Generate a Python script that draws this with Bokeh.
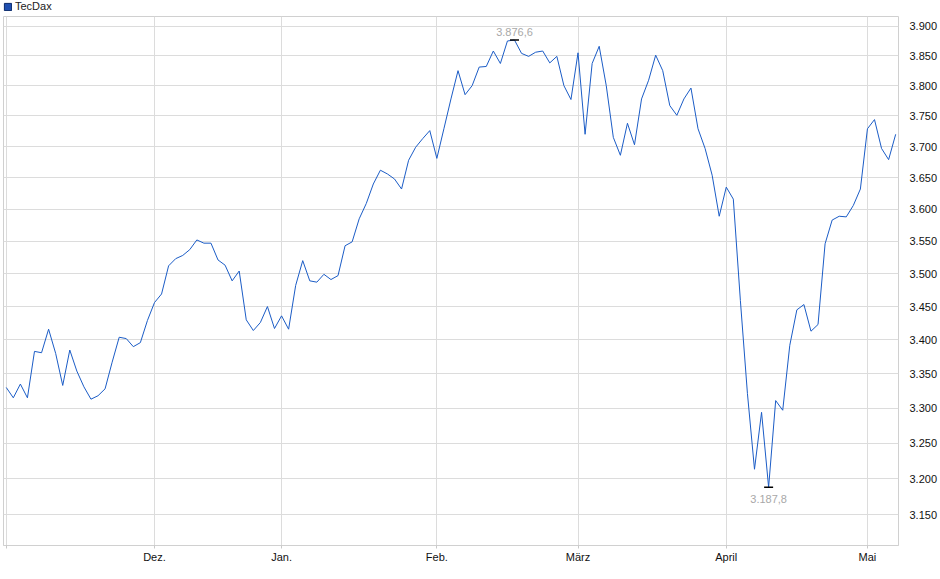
from bokeh.plotting import figure
from bokeh.layouts import column
from bokeh.models import Range1d, FixedTicker, CustomJSTickFormatter, Legend, LegendItem
from bokeh.embed import file_html
from bokeh.resources import INLINE
from bokeh.core.properties import value

series_name = "TecDax"

# daily closes, one per trading day (1 Nov 2024 .. 8 May 2025)
values = [
    3330, 3315, 3335, 3315, 3383, 3381, 3416, 3380, 3333, 3385,
    3354, 3331, 3313, 3318, 3328, 3367, 3404, 3402, 3390, 3396,
    3429, 3456, 3469, 3512, 3523, 3528, 3537, 3552, 3547, 3547,
    3521, 3513, 3489, 3504, 3430, 3414, 3426, 3450, 3417, 3436,
    3416, 3482, 3520, 3489, 3487, 3499, 3491, 3497, 3543, 3549,
    3585, 3609, 3640, 3662, 3656, 3648, 3632, 3678, 3699, 3713,
    3726, 3681, 3729, 3778, 3825, 3785, 3800, 3831, 3832, 3858,
    3837, 3875, 3876.6, 3854, 3849, 3856, 3858, 3838, 3849, 3800,
    3777, 3855, 3720, 3837, 3866, 3800, 3715, 3686, 3738, 3703,
    3778, 3809, 3851, 3825, 3767, 3751, 3778, 3796, 3729, 3697,
    3654, 3589, 3635, 3616, 3459, 3321, 3213, 3294, 3187.8, 3311,
    3297, 3392, 3445, 3453, 3413, 3423, 3546, 3583, 3589, 3588,
    3606, 3632, 3729, 3744, 3697, 3679, 3720,
]

month_ticks = [0, 21, 39, 61, 81, 102, 122]
month_labels = ["", "Dez.", "Jan.", "Feb.", "März", "April", "Mai"]
y_ticks = [3150, 3200, 3250, 3300, 3350, 3400, 3450, 3500, 3550,
           3600, 3650, 3700, 3750, 3800, 3850, 3900]
max_label = "3.876,6"
min_label = "3.187,8"

idx = list(range(len(values)))
i_max = max(idx, key=lambda i: values[i])
i_min = min(idx, key=lambda i: values[i])

LINE = "#1b5cc6"
GRID = "#dcdcdc"
FONT = "Liberation Sans"

# ---- legend strip above the chart ----
top = figure(width=931, height=16, x_axis_type=None, y_axis_type=None,
             x_range=Range1d(0, 1), y_range=Range1d(0, 1),
             output_backend="svg", toolbar_location=None,
             min_border=0, min_border_left=3)
top.outline_line_color = None
top.xgrid.visible = False
top.ygrid.visible = False
# off-screen placeholder whose glyph serves as the legend swatch
swatch = top.quad(left=[-3], right=[-2], top=[-2], bottom=[-3],
                  fill_color="#1f4fb0", line_color="#0b2a6a")
legend = Legend(items=[LegendItem(label=series_name, renderers=[swatch])],
                location="top_left", orientation="horizontal",
                glyph_width=9, glyph_height=9, label_height=12,
                label_standoff=3, padding=0, margin=0, spacing=0,
                border_line_color=None, background_fill_alpha=0,
                label_text_font_size="11px", label_text_font=FONT,
                label_text_color="#222222")
top.add_layout(legend, "center")

# ---- main chart ----
p = figure(frame_width=895, frame_height=529,
           x_range=Range1d(-0.39, 126.4), y_range=Range1d(3107.6, 3916.7),
           y_axis_type="log", y_axis_location="right",
           output_backend="svg", toolbar_location=None,
           min_border_left=3, min_border_top=0, min_border_bottom=0,
           min_border_right=0)
p.background_fill_color = "white"
p.border_fill_color = "white"
p.outline_line_color = "#d0d0d0"

line_r = p.line(idx, values, line_color=LINE, line_width=1)

# extreme markers and labels
p.scatter([i_max, i_min], [values[i_max], values[i_min]], marker="dash",
          size=9, line_color="black", line_width=1.5)
p.text([i_max], [values[i_max]], text=[max_label], text_align="center",
       text_baseline="alphabetic", y_offset=-8, text_font_size="11px",
       text_color="#a8a8a8", text_font=value(FONT))
p.text([i_min], [values[i_min]], text=[min_label], text_align="center",
       text_baseline="alphabetic", y_offset=12, text_font_size="11px",
       text_color="#a8a8a8", text_font=value(FONT))

# x axis
xa = p.xaxis[0]
xa.ticker = FixedTicker(ticks=month_ticks)
xa.major_label_overrides = {t: l for t, l in zip(month_ticks, month_labels)}
xa.major_tick_out = 3
xa.major_tick_in = 0
xa.major_tick_line_color = "#c8c8c8"
xa.minor_tick_line_color = None
xa.axis_line_color = "#d0d0d0"
xa.major_label_standoff = 2
xa.major_label_text_font = FONT
xa.major_label_text_font_size = "11px"
xa.major_label_text_color = "#111111"

# y axis (log scale, right)
ya = p.yaxis[0]
ya.ticker = FixedTicker(ticks=y_ticks)
ya.formatter = CustomJSTickFormatter(code="return (tick/1000).toFixed(3);")
ya.major_tick_line_color = None
ya.minor_tick_line_color = None
ya.axis_line_color = None
ya.major_label_standoff = 5
ya.major_label_text_font = FONT
ya.major_label_text_font_size = "11px"
ya.major_label_text_color = "#111111"

p.xgrid.grid_line_color = GRID
p.ygrid.grid_line_color = GRID

layout = column(top, p, spacing=0)
open("out.html", "w").write(file_html(layout, INLINE))
